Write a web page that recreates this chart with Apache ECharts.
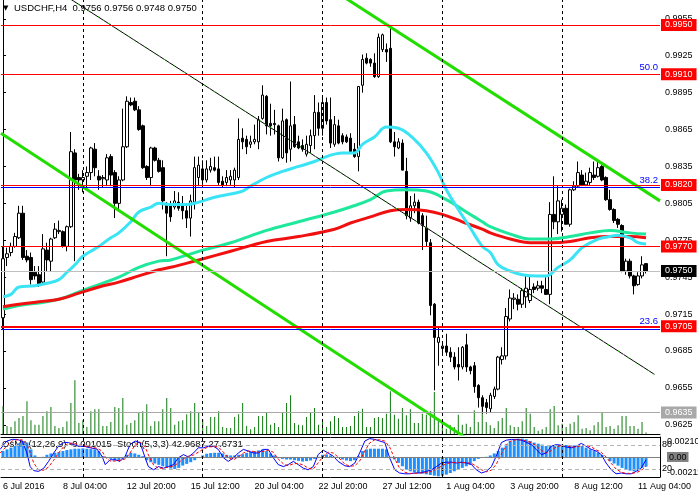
<!DOCTYPE html>
<html>
<head>
<meta charset="utf-8">
<script src="https://cdn.jsdelivr.net/npm/echarts@6/dist/echarts.min.js"></script>
<style>
  html, body { margin: 0; padding: 0; background: #fff; }
  #chart { width: 698px; height: 498px; }
</style>
</head>
<body>
<div id="chart"></div>
<script>
const FONT = '"Liberation Sans", Arial, sans-serif';
const BAR_SLOTS = 165; // 162 bars + a little room on the right

// USDCHF H4 bars, left to right
const opens = [
  .9712,.9761,.9765,.9770,.9777,.9797,.9762,.9761,.9749,.9747,
  .9741,.9767,.9758,.9777,.9782,.9782,.9770,.9786,.9846,.9826,
  .9824,.9827,.9830,.9849,.9827,.9825,.9824,.9843,.9830,.9805,
  .9824,.9851,.9887,.9888,.9881,.9868,.9835,.9826,.9850,.9840,
  .9834,.9805,.9803,.9802,.9806,.9803,.9799,.9793,.9806,.9826,
  .9833,.9824,.9832,.9834,.9833,.9823,.9822,.9824,.9824,.9826,
  .9858,.9857,.9853,.9855,.9855,.9874,.9892,.9870,.9870,.9868,
  .9842,.9873,.9849,.9869,.9855,.9852,.9845,.9852,.9860,.9879,
  .9866,.9887,.9873,.9853,.9868,.9860,.9859,.9858,.9849,.9843,
  .9901,.9923,.9922,.9919,.9908,.9930,.9930,.9931,.9855,.9850,
  .9854,.9831,.9793,.9803,.9806,.9795,.9785,.9773,.9723,.9692,
  .9687,.9689,.9684,.9680,.9674,.9672,.9690,.9672,.9673,.9657,
  .9647,.9643,.9638,.9648,.9654,.9678,.9681,.9711,.9727,.9727,
  .9723,.9729,.9726,.9737,.9736,.9738,.9735,.9731,.9796,.9790,
  .9796,.9801,.9788,.9816,.9819,.9828,.9820,.9822,.9828,.9827,
  .9835,.9826,.9808,.9800,.9792,.9787,.9750,.9758,.9746,.9739,
  .9746,.9756
];
const highs = [
  .9770,.9769,.9773,.9781,.9803,.9803,.9767,.9765,.9754,.9754,
  .9780,.9773,.9777,.9789,.9791,.9783,.9787,.9863,.9849,.9829,
  .9832,.9835,.9851,.9854,.9832,.9828,.9845,.9845,.9832,.9827,
  .9882,.9892,.9891,.9891,.9884,.9869,.9836,.9851,.9851,.9842,
  .9840,.9806,.9807,.9815,.9814,.9811,.9805,.9812,.9843,.9843,
  .9840,.9840,.9842,.9843,.9843,.9827,.9832,.9832,.9834,.9874,
  .9866,.9860,.9860,.9869,.9876,.9901,.9893,.9886,.9881,.9869,
  .9882,.9874,.9904,.9876,.9860,.9857,.9860,.9865,.9893,.9887,
  .9893,.9891,.9891,.9876,.9873,.9862,.9861,.9862,.9854,.9900,
  .9926,.9927,.9923,.9927,.9943,.9943,.9935,.9949,.9863,.9858,
  .9857,.9842,.9811,.9813,.9808,.9797,.9795,.9776,.9724,.9704,
  .9693,.9699,.9688,.9684,.9688,.9689,.9699,.9673,.9676,.9658,
  .9649,.9646,.9651,.9656,.9681,.9688,.9720,.9735,.9732,.9731,
  .9736,.9746,.9746,.9740,.9742,.9742,.9745,.9806,.9827,.9819,
  .9808,.9804,.9817,.9823,.9839,.9832,.9830,.9834,.9839,.9840,
  .9836,.9827,.9816,.9801,.9793,.9788,.9760,.9760,.9747,.9749,
  .9762,.9756
];
const lows = [
  .9702,.9754,.9762,.9769,.9776,.9759,.9757,.9739,.9743,.9737,
  .9739,.9750,.9750,.9776,.9780,.9769,.9766,.9785,.9758,.9816,
  .9814,.9816,.9824,.9827,.9816,.9818,.9819,.9819,.9793,.9799,
  .9823,.9850,.9884,.9880,.9864,.9833,.9824,.9819,.9839,.9830,
  .9800,.9762,.9790,.9800,.9799,.9792,.9785,.9778,.9800,.9819,
  .9820,.9822,.9830,.9831,.9820,.9818,.9819,.9820,.9818,.9824,
  .9849,.9845,.9850,.9853,.9849,.9873,.9861,.9860,.9861,.9839,
  .9841,.9838,.9839,.9850,.9849,.9847,.9843,.9846,.9849,.9860,
  .9860,.9869,.9850,.9851,.9853,.9853,.9854,.9846,.9842,.9831,
  .9895,.9918,.9916,.9907,.9907,.9928,.9920,.9854,.9843,.9849,
  .9832,.9792,.9790,.9797,.9788,.9767,.9770,.9714,.9653,.9673,
  .9681,.9681,.9676,.9670,.9661,.9670,.9668,.9666,.9651,.9639,
  .9634,.9634,.9635,.9646,.9653,.9674,.9678,.9709,.9719,.9718,
  .9720,.9720,.9724,.9732,.9734,.9732,.9731,.9723,.9784,.9780,
  .9782,.9788,.9786,.9815,.9818,.9819,.9819,.9820,.9824,.9826,
  .9823,.9807,.9799,.9789,.9785,.9749,.9747,.9744,.9731,.9738,
  .9744,.9748
];
const closes = [
  .9760,.9764,.9770,.9778,.9797,.9761,.9759,.9743,.9746,.9739,
  .9768,.9759,.9776,.9784,.9783,.9770,.9786,.9847,.9824,.9824,
  .9826,.9830,.9850,.9834,.9824,.9826,.9842,.9828,.9805,.9824,
  .9851,.9888,.9885,.9881,.9865,.9834,.9826,.9850,.9840,.9831,
  .9807,.9797,.9794,.9807,.9801,.9799,.9793,.9807,.9834,.9836,
  .9824,.9833,.9835,.9832,.9822,.9820,.9826,.9827,.9832,.9857,
  .9855,.9851,.9855,.9857,.9873,.9893,.9868,.9868,.9869,.9842,
  .9872,.9846,.9868,.9851,.9850,.9849,.9853,.9860,.9879,.9866,
  .9887,.9872,.9854,.9869,.9854,.9855,.9855,.9847,.9843,.9900,
  .9922,.9919,.9919,.9908,.9940,.9942,.9928,.9855,.9851,.9855,
  .9832,.9795,.9803,.9806,.9789,.9787,.9774,.9722,.9696,.9696,
  .9689,.9684,.9680,.9672,.9672,.9688,.9672,.9669,.9656,.9647,
  .9640,.9639,.9649,.9654,.9680,.9681,.9713,.9728,.9728,.9723,
  .9734,.9736,.9735,.9735,.9738,.9736,.9731,.9796,.9790,.9807,
  .9801,.9788,.9816,.9819,.9830,.9820,.9823,.9830,.9826,.9834,
  .9824,.9808,.9800,.9791,.9788,.9750,.9758,.9746,.9738,.9746,
  .9755,.9750
];
const volumes = [
  2800,800,700,1270,1600,1800,3270,1370,930,930,
  1800,2270,2700,800,600,700,1270,3100,5370,1100,
  1370,700,2270,2470,2470,800,800,1200,2700,2600,
  3600,930,1100,1370,2100,2270,2970,800,1270,1270,
  2470,3600,2600,930,1270,1370,1970,2270,3100,2200,
  1470,800,1700,1700,2270,700,600,600,1700,1970,
  3100,800,470,700,1800,1800,2100,930,1100,700,
  2200,3100,3870,1100,930,870,1700,2200,2600,930,
  1370,700,1270,1800,1600,700,700,800,1800,2270,
  2530,700,700,1600,1700,1600,2030,4270,1930,1530,
  2600,1870,2470,1100,1100,2030,1930,2270,4200,1530,
  1200,530,870,700,1930,930,1030,700,2370,1200,
  2870,1200,870,600,1270,1600,2600,870,700,700,
  1270,2600,2030,700,330,470,700,2470,2800,870,
  1030,700,1030,1200,1870,530,600,370,870,1200,
  2200,700,800,530,870,1800,1800,800,800,530,
  1200,150
];

// moving averages, [bar, price]
const maAqua = [
  [0,.9729],[2,.9731],[4,.9737],[8,.9738],[11,.9740],[14,.9743],[16,.9749],[18,.9755],
  [20,.9762],[23,.9768],[24,.9770],[27,.9777],[29,.9781],[32,.9790],[34,.9798],[37,.9802],
  [39,.9805],[42,.9804],[46,.9804],[49,.9806],[53,.9810],[56,.9812],[60,.9815],[62,.9819],
  [66,.9826],[70,.9831],[74,.9835],[78,.9839],[81,.9843],[83,.9845],[85,.9846],[88,.9846],
  [90,.9853],[93,.9859],[96,.9867],[99,.9866],[103,.9857],[106,.9846],[109,.9830],[111,.9816],
  [114,.9800],[117,.9785],[120,.9770],[122,.9765],[124,.9755],[127,.9750],[130,.9747],[134,.9746],
  [136,.9746],[139,.9753],[142,.9759],[145,.9769],[149,.9776],[152,.9778],[154,.9779],[157,.9777],
  [159,.9773],[161,.9772]
];
const maSpring = [
  [0,.9719],[4,.9722],[9,.9724],[14,.9727],[19,.9733],[24,.9739],[29,.9745],[34,.9753],
  [39,.9758],[42,.9759],[49,.9766],[57,.9773],[66,.9783],[74,.9790],[83,.9798],[87,.9802],
  [92,.9808],[96,.9815],[101,.9816],[106,.9815],[111,.9808],[116,.9798],[120,.9790],[122,.9786],
  [127,.9780],[132,.9776],[137,.9776],[142,.9778],[147,.9781],[152,.9783],[157,.9781],[161,.9780]
];
const maRed = [
  [0,.9721],[4,.9723],[9,.9725],[14,.9727],[19,.9732],[24,.9737],[29,.9741],[34,.9746],
  [39,.9751],[42,.9753],[49,.9759],[57,.9766],[66,.9774],[74,.9778],[83,.9784],[87,.9789],
  [92,.9794],[97,.9799],[101,.9800],[106,.9799],[110,.9796],[115,.9790],[120,.9784],[122,.9781],
  [127,.9776],[132,.9773],[137,.9773],[142,.9774],[147,.9777],[152,.9778],[157,.9778],[161,.9777]
];

// OsMA(12,26,9) histogram, one value per bar
const osma = [
  0.00062,0.00080,0.00098,0.00115,0.00144,0.00169,0.00151,0.00080,0.00016,-0.00009,
  0.00002,0.00023,0.00037,0.00044,0.00051,0.00062,0.00073,0.00080,0.00087,0.00087,
  0.00091,0.00087,0.00083,0.00080,0.00062,0.00009,-0.00012,-0.00020,-0.00034,-0.00041,
  -0.00020,0.00023,0.00044,0.00037,0.00023,0.00009,-0.00034,-0.00055,-0.00069,-0.00083,
  -0.00098,-0.00112,-0.00122,-0.00126,-0.00115,-0.00091,-0.00073,-0.00055,-0.00034,-0.00012,
  0.00016,0.00034,0.00041,0.00044,0.00044,0.00037,0.00023,0.00016,0.00016,0.00023,
  0.00030,0.00044,0.00055,0.00062,0.00069,0.00080,0.00062,0.00037,0.00016,-0.00005,
  -0.00020,-0.00027,-0.00027,-0.00034,-0.00041,-0.00048,-0.00044,-0.00037,-0.00020,0.00002,
  0.00023,0.00027,0.00016,0.00002,-0.00009,-0.00027,-0.00037,-0.00044,-0.00034,0.00009,
  0.00062,0.00080,0.00087,0.00087,0.00087,0.00087,0.00080,0.00002,-0.00027,-0.00062,
  -0.00098,-0.00133,-0.00151,-0.00162,-0.00169,-0.00176,-0.00183,-0.00190,-0.00197,-0.00204,
  -0.00197,-0.00186,-0.00169,-0.00151,-0.00133,-0.00115,-0.00098,-0.00080,-0.00044,-0.00020,
  -0.00009,0.00002,0.00016,0.00037,0.00062,0.00098,0.00133,0.00169,0.00186,0.00193,
  0.00193,0.00186,0.00169,0.00151,0.00140,0.00130,0.00115,0.00115,0.00122,0.00130,
  0.00130,0.00126,0.00122,0.00122,0.00122,0.00115,0.00098,0.00080,0.00062,0.00044,
  0.00023,-0.00009,-0.00044,-0.00069,-0.00091,-0.00115,-0.00133,-0.00144,-0.00151,-0.00140,
  -0.00115,-0.00102
];

// Stochastic(5,3,3), [bar, value]
const stochMain = [
  [-0.7,69],[0.2,81],[1,90],[2.3,94],[3.5,94],[4.8,90],[6,60],[6.8,26],[7.7,16],[8.9,14],
  [10.2,22],[11.4,39],[12.7,60],[13.9,77],[15.2,86],[16.4,86],[17.7,81],[18.9,77],[20.2,77],[21.8,73],
  [23.5,70],[24.8,52],[25.6,31],[26.8,43],[28.1,43],[29.3,39],[30.6,52],[31.8,81],[33.1,90],[34.3,86],
  [35.6,48],[36.4,26],[37.7,18],[38.9,26],[40.2,22],[41.4,26],[42.7,31],[43.9,48],[45.2,56],[46.4,50],
  [47.7,60],[48.9,73],[50.2,73],[51.4,77],[52.7,77],[53.9,69],[55.2,48],[56.4,39],[57.7,48],[58.9,60],
  [60.2,69],[61.4,65],[62.7,60],[63.9,60],[65.2,69],[66.4,69],[67.7,48],[68.9,31],[70.2,26],[71.4,31],
  [72.7,39],[73.9,31],[75.2,22],[76.4,18],[77.7,26],[78.9,56],[80.2,67],[81.4,60],[82.7,52],[83.9,39],
  [85.6,28],[86.8,26],[88.1,35],[89.3,60],[90.6,90],[91.8,96],[93.1,94],[94.3,90],[95.6,86],[96.8,48],
  [98.1,18],[99.3,10],[100.6,8],[101.8,8],[103.1,10],[104.3,10],[106,14],[107.3,18],[108.5,26],[109.8,35],
  [111,37],[112.3,37],[113.5,35],[114.8,37],[116,35],[117.3,31],[118.5,18],[119.8,10],[121,14],[122.3,26],
  [123.5,52],[124.8,86],[126,92],[127.3,94],[128.5,94],[129.8,92],[131,87],[132.3,81],[133.5,69],[134.8,56],
  [136,60],[137.3,77],[138.5,81],[139.8,79],[141,75],[142.3,73],[143.5,77],[144.8,84],[146,77],[147.3,69],
  [148.5,65],[149.8,56],[151,35],[152.3,18],[153.5,8],[154.8,10],[156,8],[157.3,8],[158.5,14],[159.8,22],
  [161,43]
];
const stochSignal = [
  [-0.7,60],[1,78],[2.3,90],[3.5,93],[4.8,93],[6,82],[7,55],[7.7,35],[8.9,18],[10.2,17],
  [11.4,25],[12.7,42],[13.9,60],[15.2,76],[16.4,84],[17.7,85],[18.9,80],[20.2,78],[21.8,75],[23.5,72],
  [24.8,65],[25.6,50],[26.8,40],[28.1,40],[29.3,42],[30.6,45],[31.8,60],[33.1,80],[34.3,88],[35.6,75],
  [36.4,55],[37.7,30],[38.9,22],[40.2,22],[41.4,25],[42.7,27],[43.9,35],[45.2,46],[46.4,52],[47.7,55],
  [48.9,62],[50.2,70],[51.4,75],[52.7,76],[53.9,75],[55.2,62],[56.4,48],[57.7,43],[58.9,50],[60.2,60],
  [61.4,65],[62.7,64],[63.9,62],[65.2,64],[66.4,67],[67.7,62],[68.9,45],[70.2,33],[71.4,28],[72.7,33],
  [73.9,34],[75.2,30],[76.4,22],[77.7,20],[78.9,35],[80.2,52],[81.4,62],[82.7,60],[83.9,50],[84.3,45],
  [85.6,32],[86.8,27],[88.1,28],[89.3,40],[90.6,65],[91.8,85],[93.1,93],[94.3,93],[95.6,90],[96.8,75],
  [98.1,45],[99.3,22],[100.6,12],[101.8,9],[103.1,9],[104.3,10],[106,11],[107.3,14],[108.5,20],[109.8,27],
  [111,33],[112.3,36],[113.5,36],[114.8,36],[116,36],[117.3,34],[118.5,27],[119.8,18],[121,13],[122.3,17],
  [123.5,32],[124.8,58],[126,80],[127.3,91],[128.5,93],[129.8,93],[131,90],[132.3,86],[133.5,78],[134.8,66],
  [136,60],[137.3,66],[138.5,75],[139.8,79],[141,78],[142.3,75],[143.5,75],[144.8,78],[146,79],[147.3,75],
  [148.5,68],[149.8,62],[151,50],[152.3,34],[153.5,20],[154.8,12],[156,9],[157.3,9],[158.5,11],[159.8,16],
  [161,28]
];

// drawn objects, [bar, price]
const trendUpper = [[82.8, 0.9978], [164.5, 0.9807]];
const trendLower = [[-0.5, 0.9862], [117, 0.9612]];
const trendChannel = [[15, 0.9975], [163.1, 0.9666]];

const redLevels = [0.9950, 0.9910, 0.9820, 0.9770];
const supportLevel = 0.9705;
const fibLevels = [0.9910, 0.9818, 0.9703];
const fibNames = ['50.0', '38.2', '23.6'];
const bidPrice = 0.9750;
const greyLevel = 0.9635;

const priceTicks = [0.9955, 0.9925, 0.9895, 0.9865, 0.9835, 0.9805, 0.9775, 0.9745, 0.9715, 0.9685, 0.9655, 0.9625];
const gridBars = [20, 50, 80, 110, 140];
const timeTickBars = [0, 15, 31, 47, 63, 79, 95, 111, 127, 143, 159];
const timeTickLabels = ['6 Jul 2016', '8 Jul 04:00', '12 Jul 20:00', '15 Jul 12:00', '20 Jul 04:00', '22 Jul 20:00',
  '27 Jul 12:00', '1 Aug 04:00', '3 Aug 20:00', '8 Aug 12:00', '11 Aug 04:00'];

const symbolTitle = 'USDCHF,H4';
const quoteText = '0.9756 0.9756 0.9748 0.9750';
const indicatorTitle = 'OsMA(12,26,9) -0.001015  Stoch(5,3,3) 42.9687 27.6731';

// H4 bar times, weekends skipped
const monthNames = ['Jan','Feb','Mar','Apr','May','Jun','Jul','Aug','Sep','Oct','Nov','Dec'];
const barTimes = [];
for (let t = Date.UTC(2016, 6, 5, 16); barTimes.length < BAR_SLOTS; t += 4 * 3600e3) {
  const d = new Date(t);
  if (d.getUTCDay() === 0 || d.getUTCDay() === 6) continue;
  barTimes.push(`${d.getUTCDate()} ${monthNames[d.getUTCMonth()]} ${String(d.getUTCHours()).padStart(2, '0')}:00`);
}

const candles = opens.map((o, i) => [o, closes[i], lows[i], highs[i]]);

const boxLabel = (bg, fg) => ({
  show: true, position: 'end', distance: 1,
  formatter: p => p.value.toFixed(4),
  backgroundColor: bg, color: fg, padding: [2, 4, 1, 4],
  fontSize: 9, fontFamily: FONT
});
const flat = (color, width) => ({ color, width: width || 1, type: 'solid' });
const vDash = gridBars.map(b => ({ xAxis: b, lineStyle: { color: '#000', width: 1, type: [3, 3] }, label: { show: false } }));

const priceMarks = [].concat(
  vDash,
  fibLevels.map((v, k) => ({
    yAxis: v, lineStyle: flat('#0000ff'),
    label: { show: true, position: 'insideEndTop', distance: 2, formatter: fibNames[k], color: '#0000ff', fontSize: 9.5, fontFamily: FONT }
  })),
  redLevels.map(v => ({ yAxis: v, lineStyle: flat('#ff0000'), label: boxLabel('#ff0000', '#fff') })),
  [{ yAxis: supportLevel, lineStyle: flat('#ff0000', 2), label: boxLabel('#ff0000', '#fff') }],
  [{ yAxis: bidPrice, lineStyle: flat('#c0c0c0'), label: boxLabel('#000', '#fff') }],
  [{ yAxis: greyLevel, lineStyle: flat('#a8a8a8'), label: boxLabel('#a8a8a8', '#fff') }]
);

const lineSeries = (name, data, color, width, extra) => Object.assign({
  name, type: 'line', xAxisIndex: 1, yAxisIndex: 0, data,
  showSymbol: false, silent: true, lineStyle: { color, width }
}, extra || {});

const draw = () => {
  let myChart = echarts.init(document.querySelector('#chart'));
  myChart.setOption({
    animation: false,
    backgroundColor: '#fff',
    textStyle: { fontFamily: FONT },
    grid: [
      { left: 1, top: 0, width: 659, height: 434, outerBoundsMode: 'none' },
      { left: 1, top: 437, width: 659, height: 40, outerBoundsMode: 'none' }
    ],
    xAxis: [
      { type: 'category', gridIndex: 0, data: barTimes, boundaryGap: true,
        axisLine: { show: true, onZero: false, lineStyle: { color: '#000' } },
        axisTick: { show: false }, axisLabel: { show: false }, splitLine: { show: false } },
      { type: 'value', gridIndex: 0, min: -0.5, max: BAR_SLOTS - 0.5, show: false },
      { type: 'category', gridIndex: 1, data: barTimes, boundaryGap: true, position: 'bottom',
        axisLine: { show: true, onZero: false, lineStyle: { color: '#000' } },
        axisTick: { show: false }, splitLine: { show: false },
        axisLabel: {
          interval: i => timeTickBars.indexOf(i) >= 0,
          formatter: (v, i) => timeTickLabels[timeTickBars.indexOf(i)],
          align: 'left', margin: 5, color: '#000', fontSize: 9, fontFamily: FONT
        } },
      { type: 'value', gridIndex: 1, min: -0.5, max: BAR_SLOTS - 0.5, position: 'top',
        axisLine: { show: true, onZero: false, lineStyle: { color: '#000' } },
        axisTick: { show: false }, axisLabel: { show: false }, splitLine: { show: false } }
    ],
    yAxis: [
      { type: 'value', gridIndex: 0, position: 'right', min: 0.96175, max: 0.99703, scale: true,
        axisLine: { show: true, lineStyle: { color: '#000' } },
        axisTick: { show: true, customValues: priceTicks, length: 3, lineStyle: { color: '#000' } },
        axisLabel: { customValues: priceTicks, formatter: v => v.toFixed(4), color: '#000', fontSize: 9, margin: 5, fontFamily: FONT },
        splitLine: { show: false } },
      { type: 'value', gridIndex: 0, min: 0, max: 43400, show: false },
      { type: 'value', gridIndex: 1, position: 'right', min: -0.00211, max: 0.002102,
        axisLine: { show: true, onZero: false, lineStyle: { color: '#000' } },
        axisTick: { show: false }, splitLine: { show: false },
        axisLabel: {
          customValues: [0.002102, 0, -0.00211], margin: 7, color: '#000', fontSize: 9, fontFamily: FONT,
          formatter: v => v > 0 ? '{a|0.002102}' : (v < 0 ? '{b|-0.00211}' : '{z|0.00}'),
          rich: {
            a: { padding: [9, 0, 0, 0], fontSize: 9, color: '#000', fontFamily: FONT },
            b: { padding: [0, 0, 9, 0], fontSize: 9, color: '#000', fontFamily: FONT },
            z: { backgroundColor: '#808080', padding: [1, 2, 0, 2], fontSize: 9, color: '#000', fontFamily: FONT }
          }
        } },
      { type: 'value', gridIndex: 1, position: 'right', min: 0, max: 100,
        axisLine: { show: false }, axisTick: { show: false }, splitLine: { show: false },
        axisLabel: { customValues: [80, 20], margin: 2, color: '#000', fontSize: 9, fontFamily: FONT } }
    ],
    graphic: [
      { type: 'text', left: 3, top: 5, style: { text: '▼', fontSize: 7, fill: '#000', fontFamily: 'DejaVu Sans' } },
      { type: 'text', left: 14, top: 3, style: { text: symbolTitle + '  ' + quoteText, fontSize: 9.5, fill: '#000', fontFamily: FONT } },
      { type: 'text', left: 2, top: 439, style: { text: indicatorTitle, fontSize: 9.5, fill: '#000', fontFamily: FONT } }
    ],
    series: [
      { name: 'Volume', type: 'bar', xAxisIndex: 0, yAxisIndex: 1, data: volumes, barWidth: 1,
        silent: true, itemStyle: { color: '#0f7a0f' } },
      lineSeries('MA spring', maSpring, '#1fe89c', 3, { smooth: 0.4 }),
      lineSeries('MA red', maRed, '#f01010', 3, { smooth: 0.4 }),
      lineSeries('MA aqua', maAqua, '#3ae4f4', 3, { smooth: 0.4 }),
      { name: 'USDCHF', type: 'candlestick', xAxisIndex: 0, yAxisIndex: 0, data: candles, barWidth: 3,
        silent: true,
        itemStyle: { color: '#fff', color0: '#000', borderColor: '#000', borderColor0: '#000', borderWidth: 1 },
        markLine: { silent: true, symbol: ['none', 'none'], animation: false, precision: 5, data: priceMarks } },
      lineSeries('Trend upper', trendUpper, '#22dd00', 3),
      lineSeries('Trend lower', trendLower, '#22dd00', 3),
      lineSeries('Channel', trendChannel, '#000', 1),
      lineSeries('Channel dots', trendChannel, '#22ee00', 1, { lineStyle: { color: '#22ee00', width: 1, type: [1, 5] } }),
      { name: 'OsMA', type: 'bar', xAxisIndex: 2, yAxisIndex: 2, data: osma, barWidth: 3, silent: true,
        itemStyle: { color: '#1e90ff' },
        markLine: { silent: true, symbol: ['none', 'none'], animation: false, precision: 6,
          data: [{ yAxis: 0, lineStyle: flat('#808080'), label: { show: false } }].concat(vDash) } },
      { name: 'Stoch', type: 'line', xAxisIndex: 3, yAxisIndex: 3, data: stochMain, showSymbol: false, silent: true,
        lineStyle: { color: '#0000ff', width: 1 },
        markLine: { silent: true, symbol: ['none', 'none'], animation: false,
          data: [80, 20].map(v => ({ yAxis: v, lineStyle: { color: '#b4b4b4', width: 1, type: [4, 3] }, label: { show: false } })) } },
      { name: 'Signal', type: 'line', xAxisIndex: 3, yAxisIndex: 3, data: stochSignal, showSymbol: false, silent: true,
        lineStyle: { color: '#ff0000', width: 1, type: [3, 2] } }
    ]
  });
};

draw();
</script>
</body>
</html>
